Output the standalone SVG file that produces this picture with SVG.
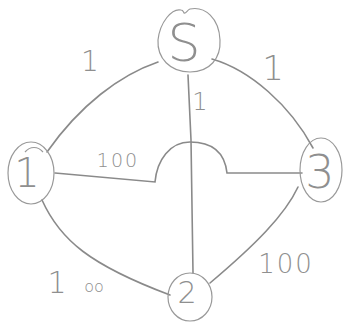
<svg xmlns="http://www.w3.org/2000/svg" width="343" height="326" viewBox="0 0 343 326">
<style>
.node{fill:none;stroke:#999999;stroke-width:1.2}
.edge{fill:none;stroke:#8a8a8a;stroke-width:1.6;stroke-linecap:round}
.lbl{font-family:"DejaVu Sans","Liberation Sans",sans-serif;font-weight:200;fill:#8f8f8f}
</style>
<rect width="343" height="326" fill="#ffffff"/>
<g id="connectors">
<path class="edge" d="M158,62 C120,75 80,105 47,152"/>
<path class="edge" d="M212,59 C250,70 290,105 313,148"/>
<path class="edge" d="M188,75 L191,140 L193,273"/>
<path class="edge" d="M55,173 L155,182 C157,160 170,142 190,142 C215,142 225,155 227,173 L302,173"/>
<path class="edge" d="M42,200 C60,240 90,265 170,295"/>
<path class="edge" d="M298,187 C285,215 255,245 210,283"/>
</g>
<g id="node-S">
<path class="node" d="M181,10 C172,8 160,22 158,40 C157,58 170,72 190,72 C210,72 221,58 220,40 C219,18 205,6 190,9 C187,10 186,14 184,13 C183,11 183,10 181,10 Z"/>
<text class="lbl" x="184" y="61" font-size="52" text-anchor="middle">S</text>
</g>
<g id="node-1">
<ellipse class="node" cx="31" cy="173" rx="23" ry="31"/>
<path class="node" d="M25,152 C30,146 38,146 43,152"/>
<text class="lbl" x="27" y="187" font-size="40" text-anchor="middle">1</text>
</g>
<g id="node-3">
<ellipse class="node" cx="321" cy="170" rx="21" ry="32"/>
<text class="lbl" x="320" y="188" font-size="46" text-anchor="middle">3</text>
</g>
<g id="node-2">
<ellipse class="node" cx="190" cy="297" rx="22" ry="24"/>
<text class="lbl" x="187" y="303" font-size="30" text-anchor="middle">2</text>
</g>
<g id="labels">
<text class="lbl" x="90" y="71" font-size="28" text-anchor="middle">1</text>
<text class="lbl" x="273" y="80" font-size="34" text-anchor="middle">1</text>
<text class="lbl" x="200" y="110" font-size="24" text-anchor="middle">1</text>
<text class="lbl" x="118" y="167" font-size="19" text-anchor="middle" letter-spacing="2">100</text>
<text class="lbl" x="286" y="273" font-size="26" text-anchor="middle" letter-spacing="2">100</text>
<text class="lbl" x="57" y="293" font-size="30" text-anchor="middle">1</text>
<text class="lbl" x="94" y="292" font-size="16" text-anchor="middle">oo</text>
</g>
</svg>
